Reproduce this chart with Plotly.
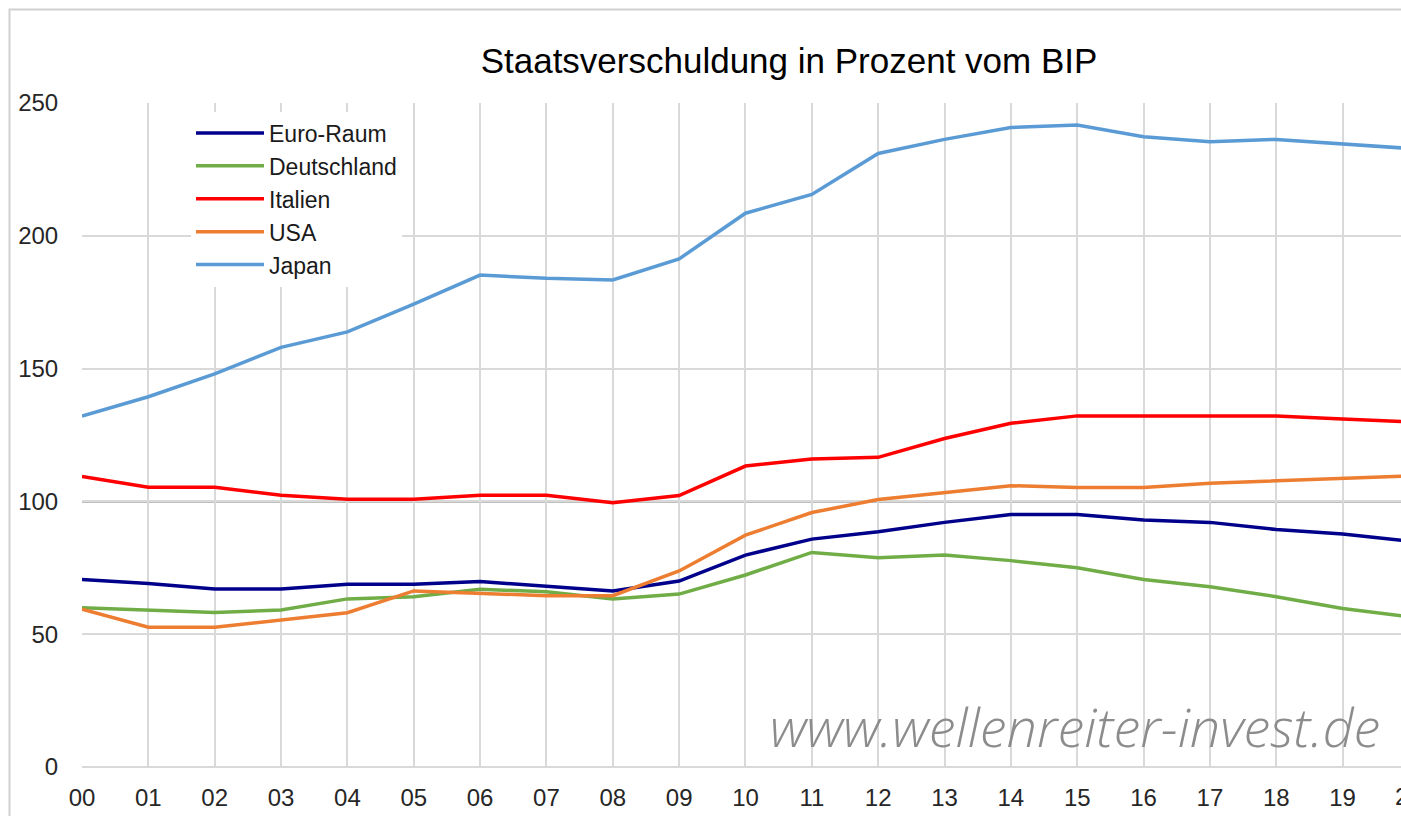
import plotly.graph_objects as go

years = ["00", "01", "02", "03", "04", "05", "06", "07", "08", "09", "10",
         "11", "12", "13", "14", "15", "16", "17", "18", "19", "20"]

euro_raum = [70.6, 69.1, 67.0, 67.0, 68.8, 68.8, 69.8, 68.1, 66.3, 70.0, 79.8,
             85.8, 88.6, 92.1, 95.1, 95.1, 93.0, 92.1, 89.4, 87.7, 85.1]
deutschland = [60.0, 59.1, 58.2, 59.1, 63.3, 64.1, 66.9, 66.0, 63.3, 65.1, 72.3,
               80.8, 78.8, 79.8, 77.7, 75.0, 70.6, 67.9, 64.1, 59.7, 56.6]
italien = [109.4, 105.3, 105.3, 102.3, 100.8, 100.8, 102.3, 102.3, 99.5, 102.2, 113.3,
           116.0, 116.6, 123.7, 129.4, 132.2, 132.2, 132.2, 132.2, 131.0, 130.0]
usa = [59.4, 52.6, 52.6, 55.3, 58.1, 66.3, 65.4, 64.5, 64.5, 73.8, 87.3,
       95.8, 100.7, 103.3, 105.9, 105.2, 105.2, 106.8, 107.7, 108.5, 109.6]
japan = [132.1, 139.4, 148.0, 158.0, 163.8, 174.3, 185.2, 184.0, 183.4, 191.3, 208.5,
         215.6, 231.0, 236.3, 240.8, 241.7, 237.3, 235.4, 236.3, 234.6, 232.9]

series_names = ["Euro-Raum", "Deutschland", "Italien", "USA", "Japan"]
series_values = [euro_raum, deutschland, italien, usa, japan]
series_colors = ["#00008B", "#70AD47", "#FF0000", "#ED7D31", "#5B9BD5"]

title_text = "Staatsverschuldung in Prozent vom BIP"
watermark = "www.wellenreiter-invest.de"
ref_level = 100

fig = go.Figure()
for name, vals, col in zip(series_names, series_values, series_colors):
    fig.add_trace(go.Scatter(
        x=list(range(len(years))), y=vals, name=name, mode="lines",
        line=dict(color=col, width=3.5),
    ))

W, H = 1401, 816
ML, MT = 82, 103
MB = H - 767
PW, PH = W - ML, H - MT - MB
X_MAX = 19.88
grid = "#d9d9d9"
font_family = "Liberation Sans, Arial, sans-serif"
tick_font = dict(family=font_family, size=24, color="#262626")


def px_x(fx):
    return (fx - ML) / PW


def px_y(fy):
    return (H - MB - fy) / PH


fig.update_layout(
    width=W, height=H,
    margin=dict(l=ML, r=0, t=MT, b=MB, autoexpand=False),
    paper_bgcolor="white", plot_bgcolor="white",
    title=dict(text=title_text, x=789 / W, xref="container", xanchor="center",
               y=1 - 61 / H, yref="container", yanchor="middle",
               font=dict(family=font_family, size=35, color="#000000")),
    xaxis=dict(range=[0, X_MAX], tickmode="array", tickvals=list(range(len(years))),
               ticktext=years, showgrid=True, gridcolor=grid, gridwidth=1.5,
               zeroline=False, showline=False, ticks="outside", ticklen=9,
               tickcolor="rgba(0,0,0,0)", tickfont=tick_font, automargin=False,
               fixedrange=True),
    yaxis=dict(range=[0, 250], dtick=50, showgrid=True, gridcolor=grid, gridwidth=1.5,
               zeroline=True, zerolinecolor=grid, zerolinewidth=1.5,
               showline=False, ticks="outside", ticklen=18,
               tickcolor="rgba(0,0,0,0)", tickfont=tick_font, automargin=False,
               fixedrange=True),
    legend=dict(x=px_x(191), y=px_y(111.5), xanchor="left", yanchor="top",
                bgcolor="white", borderwidth=0,
                font=dict(family=font_family, size=23, color="#1a1a1a"),
                itemwidth=68, tracegroupgap=0),
    showlegend=True,
)

# reference line at 100
fig.add_shape(type="line", xref="paper", yref="y", x0=0, x1=1, y0=ref_level, y1=ref_level,
              line=dict(color="#000000", width=1.5), layer="below")

# outer chart border
fig.add_shape(type="rect", xref="paper", yref="paper",
              x0=px_x(9.5), x1=1.05, y0=-0.2, y1=px_y(9.5),
              line=dict(color="#d0d0d0", width=2), fillcolor="rgba(0,0,0,0)", layer="below")

# partially visible last tick label
fig.add_annotation(text=years[-1], xref="paper", yref="paper",
                   x=20 / X_MAX, y=px_y(797), xanchor="center", yanchor="middle",
                   showarrow=False, font=tick_font)

# watermark
fig.add_annotation(text="<i>" + watermark + "</i>", xref="paper", yref="paper",
                   x=px_x(1075), y=px_y(726), xanchor="center", yanchor="middle",
                   showarrow=False,
                   font=dict(family="Open Sans, Liberation Sans, sans-serif", size=54,
                             color="#8c8c8c", weight=300))

fig.write_html(
    "out.html",
    config={"displayModeBar": False},
    post_script=("document.documentElement.style.margin='0';"
                 "document.body.style.margin='0';"
                 "document.documentElement.style.overflow='hidden';"
                 "document.body.style.overflow='hidden';"),
)
